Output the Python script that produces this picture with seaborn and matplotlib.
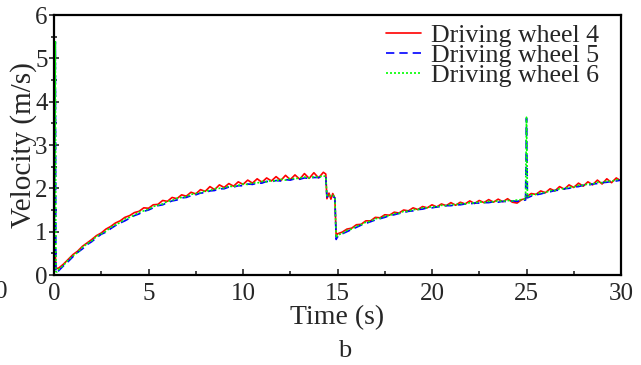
import numpy as np
import pandas as pd
import seaborn as sns
import matplotlib.pyplot as plt
from matplotlib.ticker import MultipleLocator

# time samples (s)
time = [0.0, 0.07, 0.1, 0.15,
        0.25, 0.5, 0.75, 1.0, 1.25, 1.5, 1.75, 2.0, 2.25, 2.5, 2.75, 3.0, 3.25, 3.5, 3.75, 4.0,
        4.25, 4.5, 4.75, 5.0, 5.25, 5.5, 5.75, 6.0, 6.25, 6.5, 6.75, 7.0, 7.25, 7.5, 7.75, 8.0,
        8.25, 8.5, 8.75, 9.0, 9.25, 9.5, 9.75, 10.0, 10.25, 10.5, 10.75, 11.0, 11.25, 11.5, 11.75,
        12.0, 12.25, 12.5, 12.75, 13.0, 13.25, 13.5, 13.75, 14.0, 14.25,
        14.38, 14.44, 14.55, 14.65, 14.75, 14.86, 14.93,
        15.0, 15.25, 15.5, 15.75, 16.0, 16.25, 16.5, 16.75, 17.0, 17.25, 17.5, 17.75, 18.0, 18.25,
        18.5, 18.75, 19.0, 19.25, 19.5, 19.75, 20.0, 20.25, 20.5, 20.75, 21.0, 21.25, 21.5, 21.75,
        22.0, 22.25, 22.5, 22.75, 23.0, 23.25, 23.5, 23.75, 24.0, 24.25, 24.5, 24.75,
        24.95, 25.0, 25.05,
        25.25, 25.5, 25.75, 26.0, 26.25, 26.5, 26.75, 27.0, 27.25, 27.5, 27.75, 28.0, 28.25, 28.5,
        28.75, 29.0, 29.25, 29.5, 29.75, 30.0]

wheel4 = [0.05, 0.50, 0.18, 0.15,
          0.16, 0.25, 0.36, 0.47, 0.55, 0.66, 0.74, 0.82, 0.91, 0.97, 1.06, 1.12, 1.20, 1.25, 1.33, 1.37,
          1.44, 1.47, 1.55, 1.54, 1.62, 1.63, 1.72, 1.70, 1.79, 1.76, 1.85, 1.82, 1.91, 1.87, 1.97, 1.93,
          2.04, 1.97, 2.08, 2.02, 2.11, 2.05, 2.15, 2.09, 2.19, 2.12, 2.22, 2.14, 2.24, 2.17, 2.27,
          2.18, 2.30, 2.20, 2.31, 2.21, 2.34, 2.23, 2.36, 2.24, 2.37,
          2.33, 1.76, 1.89, 1.75, 1.88, 1.77, 0.90,
          0.95, 0.99, 1.06, 1.08, 1.16, 1.17, 1.25, 1.25, 1.33, 1.32, 1.39, 1.38, 1.45, 1.43,
          1.50, 1.48, 1.55, 1.51, 1.58, 1.55, 1.62, 1.57, 1.64, 1.60, 1.67, 1.61, 1.68, 1.64,
          1.71, 1.65, 1.72, 1.67, 1.74, 1.68, 1.75, 1.69, 1.76, 1.68, 1.66, 1.74,
          1.76, 1.84, 1.82,
          1.88, 1.86, 1.94, 1.90, 1.99, 1.94, 2.04, 1.98, 2.08, 2.02, 2.12, 2.05, 2.15, 2.08,
          2.19, 2.10, 2.22, 2.13, 2.24, 2.17]

wheel5 = [0.0, 5.38, 0.06, 0.05,
          0.10, 0.21, 0.31, 0.42, 0.52, 0.60, 0.70, 0.77, 0.86, 0.94, 0.99, 1.07, 1.14, 1.20, 1.25, 1.31,
          1.37, 1.41, 1.47, 1.50, 1.55, 1.60, 1.62, 1.67, 1.71, 1.73, 1.78, 1.79, 1.83, 1.85, 1.89, 1.90,
          1.94, 1.95, 1.99, 1.99, 2.03, 2.03, 2.06, 2.06, 2.10, 2.09, 2.12, 2.12, 2.16, 2.15, 2.18,
          2.17, 2.20, 2.19, 2.22, 2.21, 2.24, 2.23, 2.25, 2.25, 2.27,
          2.25, 1.80, 1.83, 1.80, 1.82, 1.78, 0.82,
          0.88, 0.95, 1.00, 1.05, 1.10, 1.15, 1.19, 1.23, 1.27, 1.30, 1.33, 1.37, 1.39, 1.42,
          1.44, 1.47, 1.48, 1.51, 1.52, 1.55, 1.55, 1.57, 1.58, 1.60, 1.60, 1.62, 1.62, 1.64,
          1.64, 1.66, 1.66, 1.67, 1.67, 1.69, 1.68, 1.70, 1.69, 1.71, 1.70, 1.72,
          1.73, 3.62, 1.78,
          1.82, 1.85, 1.87, 1.90, 1.92, 1.95, 1.96, 1.99, 2.00, 2.03, 2.04, 2.07, 2.07, 2.10,
          2.11, 2.13, 2.14, 2.16, 2.17, 2.19]

wheel6 = [0.0, 5.40, 0.08, 0.07,
          0.13, 0.22, 0.35, 0.44, 0.52, 0.64, 0.72, 0.79, 0.89, 0.95, 1.01, 1.10, 1.16, 1.21, 1.29, 1.33,
          1.38, 1.45, 1.48, 1.52, 1.58, 1.61, 1.64, 1.70, 1.72, 1.77, 1.79, 1.81, 1.86, 1.88, 1.90, 1.94,
          1.95, 1.99, 2.00, 2.01, 2.05, 2.04, 2.07, 2.10, 2.09, 2.13, 2.12, 2.16, 2.15, 2.18, 2.17,
          2.21, 2.19, 2.23, 2.22, 2.24, 2.26, 2.24, 2.27, 2.26, 2.29,
          2.27, 1.83, 1.85, 1.82, 1.84, 1.80, 0.86,
          0.92, 0.96, 1.03, 1.06, 1.13, 1.16, 1.22, 1.24, 1.30, 1.31, 1.36, 1.37, 1.42, 1.42,
          1.47, 1.47, 1.51, 1.51, 1.55, 1.55, 1.58, 1.57, 1.61, 1.60, 1.63, 1.62, 1.65, 1.64,
          1.67, 1.66, 1.69, 1.67, 1.70, 1.69, 1.71, 1.70, 1.72, 1.71, 1.73, 1.74,
          1.75, 3.64, 1.80,
          1.85, 1.86, 1.90, 1.90, 1.95, 1.95, 1.99, 1.99, 2.03, 2.03, 2.07, 2.07, 2.10, 2.10,
          2.14, 2.13, 2.17, 2.16, 2.20, 2.20]

labels = ["Driving wheel 4", "Driving wheel 5", "Driving wheel 6"]
colors = ["#ff0000", "#0000ff", "#00ff00"]

df = pd.concat([
    pd.DataFrame({"time": time, "v": wheel4, "wheel": labels[0]}),
    pd.DataFrame({"time": time, "v": wheel5, "wheel": labels[1]}),
    pd.DataFrame({"time": time, "v": wheel6, "wheel": labels[2]}),
])

sns.set_style("ticks")
plt.rcParams['font.family'] = ['Liberation Serif', 'DejaVu Serif']

fig = plt.figure(figsize=(6.41, 3.65), dpi=100)
ax = fig.add_axes([54/641, 1 - 275/365, (621 - 54)/641, (275 - 15)/365])

sns.lineplot(data=df, x="time", y="v", hue="wheel", style="wheel",
             palette=dict(zip(labels, colors)),
             dashes={labels[0]: "", labels[1]: (5, 3), labels[2]: (1.2, 1.2)},
             linewidth=1.2, estimator=None, sort=False, ax=ax)

ax.set_xlim(0, 30)
ax.set_ylim(0, 6)
ax.xaxis.set_major_locator(MultipleLocator(5))
ax.xaxis.set_minor_locator(MultipleLocator(2.5))
ax.yaxis.set_major_locator(MultipleLocator(1))
ax.yaxis.set_minor_locator(MultipleLocator(0.5))
ax.tick_params(axis='x', which='both', direction='in', labelsize=18, pad=6)
ax.tick_params(axis='x', which='major', length=4, width=1.2)
ax.tick_params(axis='x', which='minor', length=3, width=1.2)
ax.tick_params(axis='y', which='both', direction='inout', labelsize=18, pad=1)
ax.tick_params(axis='y', which='major', length=7, width=1.2)
ax.tick_params(axis='y', which='minor', length=5, width=1.2)
for s in ax.spines.values():
    s.set_visible(True)
    s.set_linewidth(1.6)
    s.set_color('black')

ax.set_xlabel("Time (s)", fontsize=20, labelpad=0)
ax.set_ylabel("Velocity (m/s)", fontsize=21, labelpad=-1)

h, l = ax.get_legend_handles_labels()
ax.legend(h, l, loc='upper left', bbox_to_anchor=(386/641, 1 - 24/365),
          bbox_transform=fig.transFigure, frameon=False, fontsize=18.6,
          handlelength=1.35, handletextpad=0.4, labelspacing=-0.12,
          borderpad=0, borderaxespad=0)

fig.text(345/641, 1 - 351/365, "b", fontsize=19, ha='center', va='center')
# clipped tick label from the neighbouring panel
fig.text(8/641, 1 - 292/365, "0", fontsize=18, ha='right', va='center')

fig.savefig("out.png", dpi=100)
